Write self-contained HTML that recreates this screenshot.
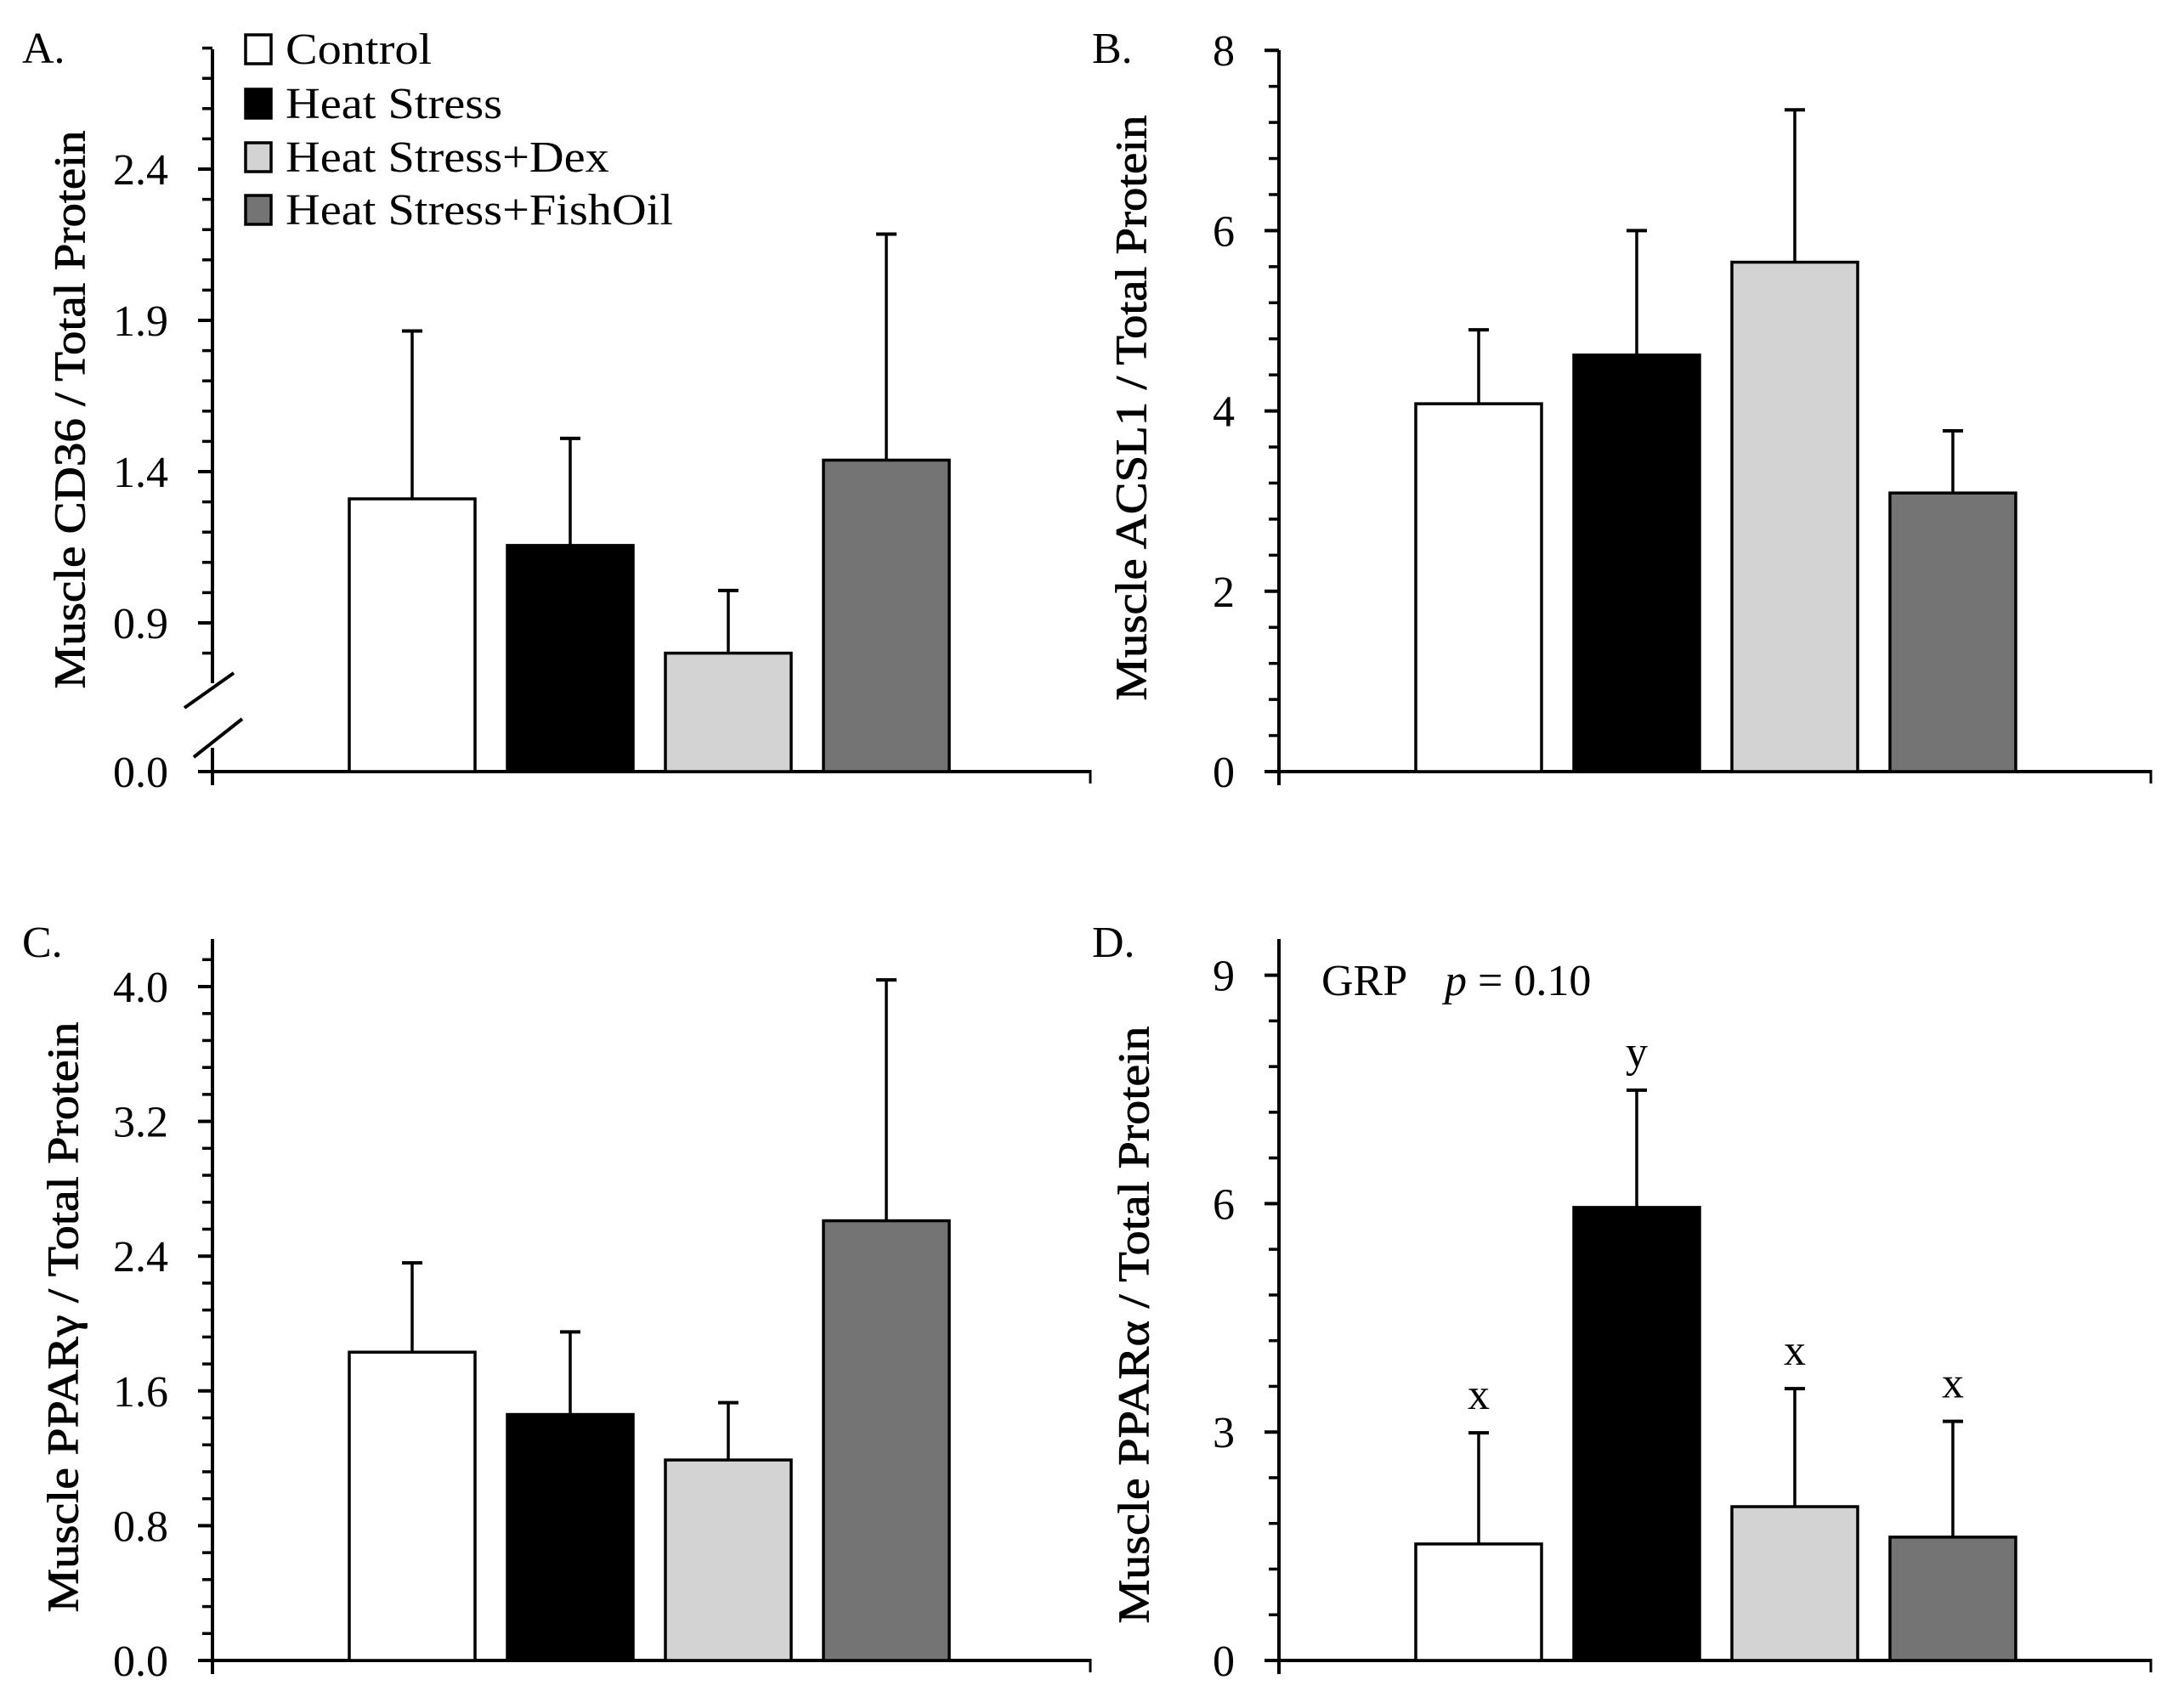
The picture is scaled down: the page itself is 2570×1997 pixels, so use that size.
<!DOCTYPE html>
<html><head><meta charset="utf-8"><style>
html,body{margin:0;padding:0;background:#fff}
svg{display:block;font-family:"Liberation Serif",serif}
</style></head><body>
<svg id="fig" width="2570" height="1997" viewBox="0 0 2570 1997" xmlns="http://www.w3.org/2000/svg"></svg>
<script>
const groups = ["Control","Heat Stress","Heat Stress+Dex","Heat Stress+FishOil"];
const fills = ["#ffffff","#000000","#d3d3d3","#747474"];
// Panel A (CD36)
const aMeans = [1.31, 1.156, 0.80, 1.438];
const aErr = [1.865, 1.51, 1.007, 2.185];
const aTicks = ["0.0","0.9","1.4","1.9","2.4"];
// Panel B (ACSL1)
const bMeans = [4.08, 4.62, 5.65, 3.09];
const bErr = [4.90, 6.00, 7.34, 3.78];
const bTicks = ["0","2","4","6","8"];
// Panel C (PPARgamma)
const cMeans = [1.83, 1.46, 1.19, 2.61];
const cErr = [2.36, 1.95, 1.53, 4.04];
const cTicks = ["0.0","0.8","1.6","2.4","3.2","4.0"];
// Panel D (PPARalpha)
const dMeans = [1.53, 5.95, 2.02, 1.62];
const dErr = [2.99, 7.49, 3.57, 3.14];
const dTicks = ["0","3","6","9"];
const dLetters = ["x","y","x","x"];

const NS="http://www.w3.org/2000/svg";
const svg=document.getElementById('fig');
function mk(tag,attrs,parent){const e=document.createElementNS(NS,tag);for(const k in attrs)e.setAttribute(k,attrs[k]);(parent||svg).appendChild(e);return e;}
function txt(s,attrs,parent){const e=mk('text',attrs,parent);e.textContent=s;return e;}
const FS=52;

function panel(cfg){
  const g=mk('g',{});
  
  
  const ax=cfg.ax, base=cfg.base;
  const y=v=>cfg.yfn(v);
  const pl=txt(cfg.letter,{x:cfg.lx,y:cfg.ly,'font-size':FS,fill:'#000'},g);
  
  
  const yl=mk('line',{x1:ax,x2:ax,y1:cfg.axTop,y2:cfg.axBot,stroke:'#000','stroke-width':4},g);
  
  
  if(cfg.brk){
    const s=mk('line',{x1:ax,x2:ax,y1:cfg.brk.seg,y2:base+16,stroke:'#000','stroke-width':4},g);
    
    
    cfg.brk.marks.forEach(m=>{
      const b=mk('line',{x1:m[0],y1:m[1],x2:m[2],y2:m[3],stroke:'#000','stroke-width':4},g);
      
      
    });
  } else {
    mk('line',{x1:ax,x2:ax,y1:cfg.axTop,y2:base+16,stroke:'#000','stroke-width':4},g);
  }
  const xl=mk('line',{x1:ax-17,x2:cfg.xEnd,y1:base,y2:base,stroke:'#000','stroke-width':4},g);
  
  
  mk('line',{x1:cfg.xEnd,x2:cfg.xEnd,y1:base-2,y2:base+14,stroke:'#000','stroke-width':3},g);
  for(let i=0;;i++){
    const v=cfg.minStart+i*cfg.minStep; if(v>cfg.minEnd+1e-9)break;
    const t=mk('line',{x1:ax-12,x2:ax,y1:y(v),y2:y(v),stroke:'#000','stroke-width':3.5},g);
    
    
  }
  cfg.ticks.forEach((lab,i)=>{
    const v=parseFloat(lab);
    const yy=(i===0)?base:y(v);
    const t=mk('line',{x1:ax-17,x2:ax,y1:yy,y2:yy,stroke:'#000','stroke-width':4},g);
    
    
    const tl=txt(lab,{x:ax-52,y:yy+18,'text-anchor':'end','font-size':FS,fill:'#000'},g);
    
    
  });
  const tt=txt(cfg.title,{x:0,y:0,transform:`translate(${cfg.tx},${cfg.ty}) rotate(-90)`,'text-anchor':'middle','dominant-baseline':'central','font-size':52,textLength:cfg.tlen,lengthAdjust:'spacingAndGlyphs',fill:'#000',stroke:'#000','stroke-width':0.8},g);
  
  
  cfg.means.forEach((m,i)=>{
    const x0=cfg.bx0+i*cfg.step, w=cfg.bw, cx=x0+w/2;
    const top=y(m), et=y(cfg.errs[i]);
    const el=mk('line',{x1:cx,x2:cx,y1:et,y2:top,stroke:'#000','stroke-width':3.5},g);
    
    
    const cap=mk('line',{x1:cx-12,x2:cx+12,y1:et,y2:et,stroke:'#000','stroke-width':4},g);
    
    
    const r=mk('rect',{x:x0,y:top,width:w,height:base-top,fill:fills[i],stroke:'#000','stroke-width':3.5},g);
    
    
    if(cfg.letters){
      const lt=txt(cfg.letters[i],{x:cx,y:et-28,'text-anchor':'middle','font-size':FS,fill:'#000'},g);
      
      
    }
  });
  return g;
}

panel({name:'panel-a-cd36',letter:'A.',lx:26,ly:74,ax:250,base:908,xEnd:1283,axTop:58,axBot:804,
  yfn:v=>733-(v-0.9)*356,minStart:0.8,minStep:0.1,minEnd:2.8,ticks:aTicks,
  brk:{seg:880,marks:[[217,833,275,792],[228,891,285,846]]},
  title:'Muscle CD36 / Total Protein',tx:83,ty:482,tlen:657,
  means:aMeans,errs:aErr,bx0:411,step:186,bw:148});
panel({name:'panel-b-acsl1',letter:'B.',lx:1285,ly:74,ax:1505,base:908,xEnd:2531,axTop:59,axBot:908,
  yfn:v=>908-v*106.1,minStart:0,minStep:0.4,minEnd:8,ticks:bTicks,
  title:'Muscle ACSL1 / Total Protein',tx:1332,ty:480,tlen:689,
  means:bMeans,errs:bErr,bx0:1666,step:186,bw:148});
panel({name:'panel-c-ppargamma',letter:'C.',lx:26,ly:1126,ax:250,base:1954,xEnd:1283,axTop:1105,axBot:1954,
  yfn:v=>1954-v*198.25,minStart:0,minStep:0.16,minEnd:4.17,ticks:cTicks,
  title:'Muscle PPARγ / Total Protein',tx:75,ty:1550,tlen:695,
  means:cMeans,errs:cErr,bx0:411,step:186,bw:148});
panel({name:'panel-d-pparalpha',letter:'D.',lx:1285,ly:1126,ax:1505,base:1954,xEnd:2531,axTop:1105,axBot:1954,
  yfn:v=>1954-v*89.6,minStart:0,minStep:0.6,minEnd:9.0,ticks:dTicks,
  title:'Muscle PPARα / Total Protein',tx:1335,ty:1559,tlen:703,
  means:dMeans,errs:dErr,bx0:1666,step:186,bw:148,letters:dLetters});

const grp=txt('GRP',{x:1555,y:1171,'font-size':FS,fill:'#000'});


const pv=mk('text',{x:1700,y:1171,'font-size':FS,fill:'#000'});


const pi=mk('tspan',{'font-style':'italic'},pv); pi.textContent='p';
const pr=mk('tspan',{},pv); pr.textContent=' = 0.10';

const legRows=[58,122,185,247];
const legTexts=[];
groups.forEach((gname,i)=>{
  const lg=mk('g',{});
  
  
  const sq=mk('rect',{x:289,y:legRows[i]-17,width:30,height:34,fill:fills[i],stroke:'#000','stroke-width':3.5},lg);
  
  
  const t=txt(gname,{x:336,y:legRows[i]+17,'font-size':52,fill:'#000'},lg);
  
  
  legTexts.push(t);
});
const refLen=legTexts[3].getComputedTextLength();
const f=refLen>0?456/refLen:1;
legTexts.forEach(t=>{
  const L=t.getComputedTextLength();
  if(L>0){t.setAttribute('textLength',(L*f).toFixed(1));t.setAttribute('lengthAdjust','spacingAndGlyphs');}
});
</script>
</body></html>
